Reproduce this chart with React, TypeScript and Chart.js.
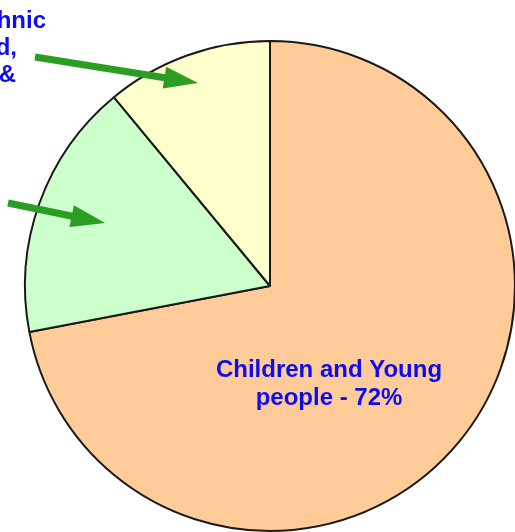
import React, { useEffect, useRef } from "react";
import { Chart, registerables } from "chart.js";

Chart.register(...registerables);

const categories = [
  "Children and Young people",
  "Minority Ethnic background",
  "Refugees & Asylum seekers",
];
const values = [72, 17, 11];
const sliceColors = ["#FFCC99", "#CCFFCC", "#FFFFCC"];

const mainLabelLines = ["Children and Young", "people - 72%"];
const leftLabelLines = ["Black & Minority Ethnic", "background,", "Refugees &"];

const TEXT_BLUE = "#0c0cee";
const ARROW_GREEN = "#2a9d22";

function drawArrow(ctx: CanvasRenderingContext2D, x1: number, y1: number, x2: number, y2: number) {
  const ang = Math.atan2(y2 - y1, x2 - x1);
  const headLen = 34;
  const headHalf = 11;
  const bx = x2 - headLen * Math.cos(ang);
  const by = y2 - headLen * Math.sin(ang);
  ctx.save();
  ctx.strokeStyle = ARROW_GREEN;
  ctx.fillStyle = ARROW_GREEN;
  ctx.lineWidth = 7;
  ctx.lineCap = "butt";
  ctx.beginPath();
  ctx.moveTo(x1, y1);
  ctx.lineTo(bx + 2 * Math.cos(ang), by + 2 * Math.sin(ang));
  ctx.stroke();
  ctx.beginPath();
  ctx.moveTo(x2, y2);
  ctx.lineTo(bx - headHalf * Math.sin(ang), by + headHalf * Math.cos(ang));
  ctx.lineTo(bx + headHalf * Math.sin(ang), by - headHalf * Math.cos(ang));
  ctx.closePath();
  ctx.fill();
  ctx.restore();
}

const annotationPlugin = {
  id: "annotations",
  afterDraw(chart: any) {
    const ctx: CanvasRenderingContext2D = chart.ctx;
    ctx.save();
    ctx.fillStyle = TEXT_BLUE;
    ctx.font = "bold 24px Arial, 'Liberation Sans', sans-serif";
    ctx.textBaseline = "alphabetic";
    ctx.textAlign = "center";
    ctx.fillText(mainLabelLines[0], 329, 377);
    ctx.fillText(mainLabelLines[1], 329, 405);
    ctx.textAlign = "right";
    ctx.fillText(leftLabelLines[0], 46, 28);
    ctx.fillText(leftLabelLines[1], 17, 55);
    ctx.fillText(leftLabelLines[2], 16, 82);
    ctx.restore();
    drawArrow(ctx, 35, 57, 198, 83);
    drawArrow(ctx, 8, 203, 105, 223);
  },
};

export default function App() {
  const ref = useRef<HTMLCanvasElement>(null);
  useEffect(() => {
    document.body.style.margin = "0";
    const chart = new Chart(ref.current as HTMLCanvasElement, {
      type: "pie",
      data: {
        labels: categories,
        datasets: [
          {
            data: values,
            backgroundColor: sliceColors,
            borderColor: "#1a1a1a",
            borderWidth: 2,
          },
        ],
      },
      options: {
        animation: false,
        responsive: false,
        maintainAspectRatio: false,
        layout: { padding: { left: 24, top: 40, right: 24, bottom: 28 } },
        plugins: {
          legend: { display: false },
          tooltip: { enabled: false },
          title: { display: false },
        },
      },
      plugins: [annotationPlugin],
    });
    return () => chart.destroy();
  }, []);
  return (
    <div style={{ position: "absolute", left: 0, top: 0, width: 515, height: 532, overflow: "hidden", background: "#fff" }}>
      <canvas ref={ref} width={540} height={560} style={{ width: 540, height: 560 }} />
    </div>
  );
}
